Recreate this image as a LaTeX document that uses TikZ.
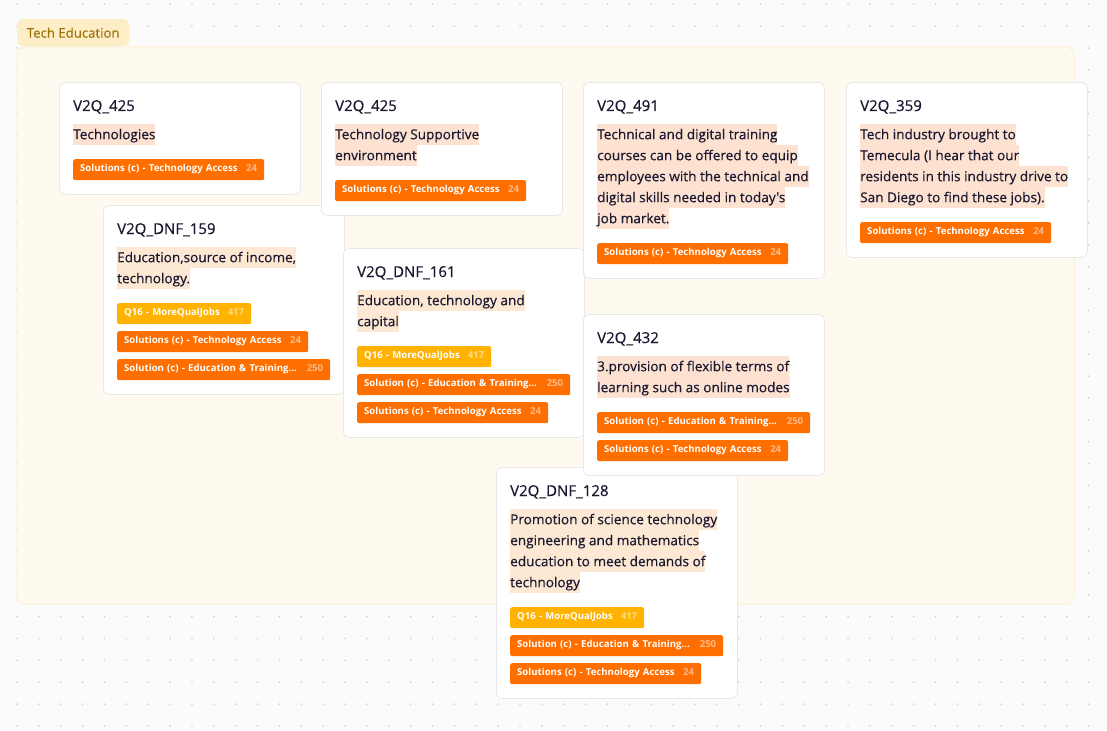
\documentclass[tikz,border=0pt]{standalone}
\usepackage{fontspec}
\setmainfont{Open Sans}
\newfontfamily\medfont{Open Sans}[FakeBold=0.45]
\newfontfamily\ttlfont{Open Sans}[FakeBold=0.6]
\definecolor{bg}{HTML}{FBFBFB}
\definecolor{dotc}{HTML}{CDCDCD}
\definecolor{grpfill}{HTML}{FFFAF0}
\definecolor{grpline}{HTML}{FCEFD3}
\definecolor{grptag}{HTML}{FDEEC7}
\definecolor{grptext}{HTML}{9A730A}
\definecolor{cardline}{HTML}{E8E8EC}
\definecolor{ink}{HTML}{1A1930}
\definecolor{peachA}{HTML}{FDE2D2}
\definecolor{peachB}{HTML}{FDE8D4}
\definecolor{tagorange}{HTML}{FF6F00}
\definecolor{tagyellow}{HTML}{FFB300}
\definecolor{cntO}{HTML}{FFB98A}
\definecolor{cntY}{HTML}{FFDB85}
\tikzset{
  card/.style={draw=cardline, fill=white, rounded corners=6pt, line width=0.8pt, minimum width=241pt, anchor=north west, inner sep=0pt},
  ttl/.style={anchor=base west, inner sep=0pt, text=ink, font=\ttlfont\fontsize{15}{18}\selectfont},
  hlA/.style={fill=peachA, inner sep=0pt, text height=15pt, text depth=6pt, anchor=north west, text=ink, font=\medfont\fontsize{13.6}{16}\selectfont},
  hlB/.style={hlA, fill=peachB},
  tagbase/.style={anchor=north west, rounded corners=2pt, inner xsep=7pt, inner ysep=0pt, text height=12.5pt, text depth=8.5pt, text=white, font=\bfseries\fontsize{9.6}{11}\selectfont, align=left},
  ta/.style={tagbase, fill=tagorange, text width=177pt},
  et/.style={tagbase, fill=tagorange, text width=199pt},
  qj/.style={tagbase, fill=tagyellow, text width=120pt},
}
\newcommand\TA{Solutions (c) - Technology Access\hfill\textcolor{cntO}{24}}
\newcommand\ET{Solution (c) - Education \& Training...\hfill\textcolor{cntO}{250}}
\newcommand\QJ{Q16 - MoreQualJobs\hfill\textcolor{cntY}{417}}
\begin{document}
\begin{tikzpicture}[x=1pt,y=-1pt]
\useasboundingbox (0,0) rectangle (1107,730);
\fill[bg] (0,0) rectangle (1107,730);
\foreach \i in {0,...,50} \foreach \j in {0,...,33} \fill[dotc] (17+21.87*\i,4.3+21.87*\j) circle (0.9pt);
% group
\draw[fill=grpfill, draw=grpline, line width=1pt, rounded corners=8pt] (17,47) rectangle (1074,604);
\node[fill=grptag, rounded corners=6pt, minimum width=112pt, minimum height=27pt, anchor=north west, inner sep=0pt, text=grptext, font=\medfont\fontsize{13.2}{16}\selectfont] (grp) at (17,19) {Tech Education};
% card 1
\begin{scope}[shift={(59,82)}]
\node[card, minimum height=112pt] (c1) at (0,0) {};
\node[ttl] (c1t) at (14,29) {V2Q\_425};
\node[hlA] (c1a) at (14,42) {Technologies};
\node[ta] (c1g1) at (14,77) {\TA};
\end{scope}
% card 5
\begin{scope}[shift={(103,205)}]
\node[card, minimum height=189pt] (c5) at (0,0) {};
\node[ttl] (c5t) at (14,29) {V2Q\_DNF\_159};
\node[hlB] (c5a) at (14,42) {Education,source of income,};
\node[hlB] (c5b) at (14,63) {technology.};
\node[qj] (c5g1) at (14,98) {\QJ};
\node[ta] (c5g2) at (14,126) {\TA};
\node[et] (c5g3) at (14,154) {\ET};
\end{scope}
% card 2
\begin{scope}[shift={(321,82)}]
\node[card, minimum height=133pt] (c2) at (0,0) {};
\node[ttl] (c2t) at (14,29) {V2Q\_425};
\node[hlA] (c2a) at (14,42) {Technology Supportive};
\node[hlA] (c2b) at (14,63) {environment};
\node[ta] (c2g1) at (14,98) {\TA};
\end{scope}
% card 6
\begin{scope}[shift={(343,248)}]
\node[card, minimum height=189pt] (c6) at (0,0) {};
\node[ttl] (c6t) at (14,29) {V2Q\_DNF\_161};
\node[hlB] (c6a) at (14,42) {Education, technology and};
\node[hlB] (c6b) at (14,63) {capital};
\node[qj] (c6g1) at (14,98) {\QJ};
\node[et] (c6g2) at (14,126) {\ET};
\node[ta] (c6g3) at (14,154) {\TA};
\end{scope}
% card 3
\begin{scope}[shift={(583,82)}]
\node[card, minimum height=196pt] (c3) at (0,0) {};
\node[ttl] (c3t) at (14,29) {V2Q\_491};
\node[hlA] (c3a) at (14,42) {Technical and digital training};
\node[hlA] (c3b) at (14,63) {courses can be offered to equip};
\node[hlA] (c3c) at (14,84) {employees with the technical and};
\node[hlA] (c3d) at (14,105) {digital skills needed in today's};
\node[hlA] (c3e) at (14,126) {job market.};
\node[ta] (c3g1) at (14,161) {\TA};
\end{scope}
% card 4
\begin{scope}[shift={(846,82)}]
\node[card, minimum height=175pt] (c4) at (0,0) {};
\node[ttl] (c4t) at (14,29) {V2Q\_359};
\node[hlA] (c4a) at (14,42) {Tech industry brought to};
\node[hlA] (c4b) at (14,63) {Temecula (I hear that our};
\node[hlA] (c4c) at (14,84) {residents in this industry drive to};
\node[hlA] (c4d) at (14,105) {San Diego to find these jobs).};
\node[ta] (c4g1) at (14,140) {\TA};
\end{scope}
% card 8
\begin{scope}[shift={(496,467)}]
\node[card, minimum height=231pt] (c8) at (0,0) {};
\node[ttl] (c8t) at (14,29) {V2Q\_DNF\_128};
\node[hlB] (c8a) at (14,42) {Promotion of science technology};
\node[hlB] (c8b) at (14,63) {engineering and mathematics};
\node[hlB] (c8c) at (14,84) {education to meet demands of};
\node[hlB] (c8d) at (14,105) {technology};
\node[qj] (c8g1) at (14,140) {\QJ};
\node[et] (c8g2) at (14,168) {\ET};
\node[ta] (c8g3) at (14,196) {\TA};
\end{scope}
% card 7
\begin{scope}[shift={(583,314)}]
\node[card, minimum height=161pt] (c7) at (0,0) {};
\node[ttl] (c7t) at (14,29) {V2Q\_432};
\node[hlA] (c7a) at (14,42) {3.provision of flexible terms of};
\node[hlA] (c7b) at (14,63) {learning such as online modes};
\node[et] (c7g1) at (14,98) {\ET};
\node[ta] (c7g2) at (14,126) {\TA};
\end{scope}
\end{tikzpicture}
\end{document}
